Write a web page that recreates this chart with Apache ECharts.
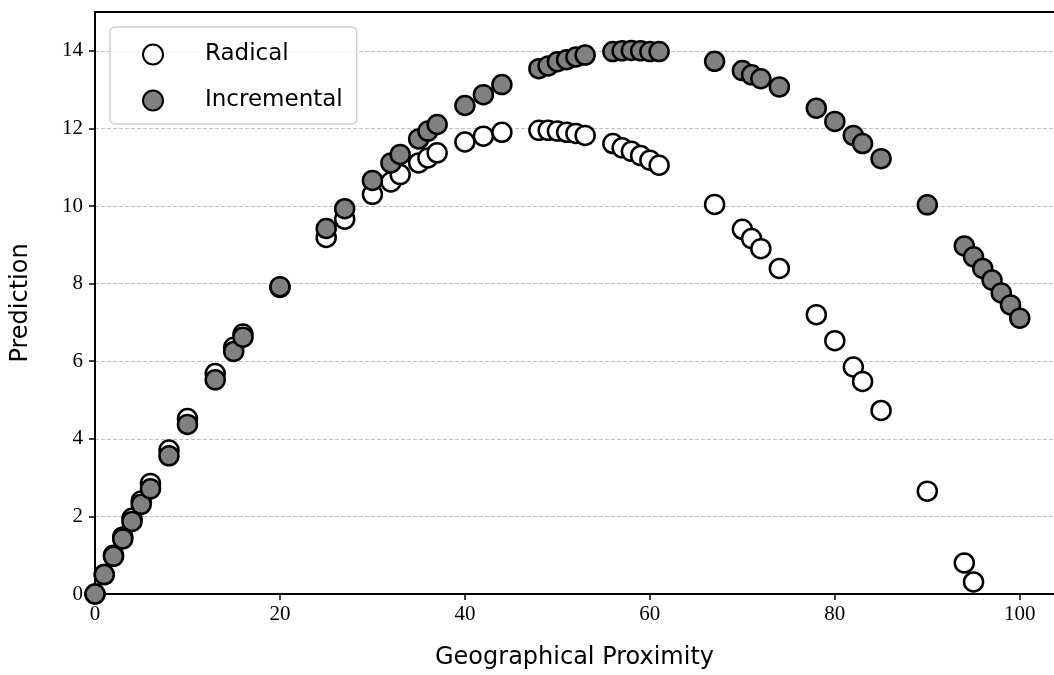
<!DOCTYPE html>
<html>
<head>
<meta charset="utf-8">
<script src="https://cdn.jsdelivr.net/npm/echarts@6/dist/echarts.min.js"></script>
<style>
  html, body { margin: 0; padding: 0; background: #fff; }
  #chart { width: 1054px; height: 675px; }
</style>
</head>
<body>
<div id="chart"></div>
<script>
// x positions shared by both series
var proximity = [0, 1, 2, 3, 4, 5, 6, 8, 10, 13, 15, 16, 20, 25, 27, 30, 32, 33, 35, 36, 37,
  40, 42, 44, 48, 49, 50, 51, 52, 53, 56, 57, 58, 59, 60, 61, 67, 70, 71, 72, 74,
  78, 80, 82, 83, 85, 90, 94, 95, 96, 97, 98, 99, 100];

var radical = [0, 0.5, 1.0, 1.47, 1.95, 2.4, 2.85, 3.71, 4.52, 5.68, 6.36, 6.7, 7.9, 9.19, 9.66,
  10.3, 10.62, 10.81, 11.11, 11.24, 11.37, 11.65, 11.8, 11.9, 11.95, 11.95, 11.93, 11.9,
  11.87, 11.82, 11.61, 11.5, 11.41, 11.3, 11.18, 11.05, 10.04, 9.4, 9.16, 8.9, 8.39,
  7.2, 6.53, 5.85, 5.48, 4.73, 2.65, 0.8, 0.31, -0.15, -0.6, -1.1, -1.6, -2.1];

var incremental = [0, 0.5, 0.97, 1.42, 1.87, 2.31, 2.71, 3.56, 4.37, 5.52, 6.25, 6.62, 7.92, 9.42, 9.93,
  10.66, 11.11, 11.33, 11.73, 11.93, 12.1, 12.59, 12.87, 13.13, 13.54, 13.61, 13.72, 13.77,
  13.84, 13.89, 13.98, 14.0, 14.01, 14.0, 13.98, 13.98, 13.73, 13.49, 13.38, 13.28, 13.07,
  12.52, 12.18, 11.82, 11.61, 11.22, 10.03, 8.97, 8.69, 8.39, 8.09, 7.76, 7.45, 7.11];

var xTicks = [0, 20, 40, 60, 80, 100];
var yTicks = [0, 2, 4, 6, 8, 10, 12, 14];

function pairs(xs, ys) {
  return xs.map(function (x, i) { return [x, ys[i]]; });
}

var chart = echarts.init(document.getElementById('chart'));

var tickFont = { fontFamily: 'Liberation Serif', fontSize: 21, color: '#000' };
var titleFont = { fontFamily: 'DejaVu Sans', fontSize: 24, color: '#000' };

chart.setOption({
  animation: false,
  backgroundColor: '#fff',
  grid: { left: 95, right: 0, top: 12, bottom: 79, containLabel: false },
  legend: {
    left: 110, top: 27,
    orient: 'vertical',
    itemWidth: 20, itemHeight: 20, itemGap: 23,
    padding: [16, 14, 12, 32],
    backgroundColor: 'rgba(255,255,255,0.8)',
    borderColor: '#d0d0d0', borderWidth: 1.5, borderRadius: 5,
    textStyle: { fontFamily: 'DejaVu Sans', fontSize: 23, color: '#000', padding: [0, 0, 0, 37] },
    data: ['Radical', 'Incremental']
  },
  xAxis: [{
    type: 'value', min: 0, max: 103.7,
    name: 'Geographical Proximity', nameLocation: 'middle', nameGap: 52,
    nameTextStyle: titleFont,
    axisLine: { lineStyle: { color: '#000', width: 2 } },
    axisTick: { show: true, length: 6, lineStyle: { color: '#000', width: 1.5 }, customValues: xTicks },
    axisLabel: Object.assign({ margin: 10, customValues: xTicks }, tickFont),
    splitLine: { show: false }
  }, {
    type: 'value', position: 'top', min: 0, max: 103.7,
    axisLine: { show: true, lineStyle: { color: '#000', width: 2 } },
    axisTick: { show: false }, axisLabel: { show: false }, splitLine: { show: false }
  }],
  yAxis: {
    type: 'value', min: 0, max: 15, interval: 2,
    name: 'Prediction', nameLocation: 'middle', nameGap: 62,
    nameTextStyle: titleFont,
    axisLine: { show: true, lineStyle: { color: '#000', width: 2 } },
    axisTick: { show: true, length: 6, lineStyle: { color: '#000', width: 1.5 }, customValues: yTicks },
    axisLabel: Object.assign({ margin: 12, customValues: yTicks }, tickFont),
    splitLine: { show: true, lineStyle: { color: '#b0b0b0', width: 0.8, type: [4, 2] } }
  },
  series: [{
    name: 'Radical', type: 'scatter', symbolSize: 19,
    itemStyle: { color: '#fff', borderColor: '#000', borderWidth: 2.5, opacity: 1 },
    data: pairs(proximity, radical)
  }, {
    name: 'Incremental', type: 'scatter', symbolSize: 19,
    itemStyle: { color: '#808080', borderColor: '#000', borderWidth: 2.5, opacity: 1 },
    data: pairs(proximity, incremental)
  }]
});
</script>
</body>
</html>
